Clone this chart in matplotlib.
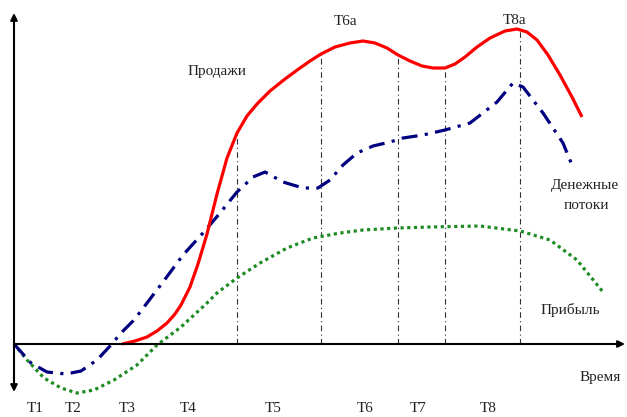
# Product life cycle: sales, cash flow and profit over time
import matplotlib.pyplot as plt

# time positions (horizontal) and curve heights above the time axis
sales_t = [122, 135, 147, 157, 167, 175, 181, 190, 198, 207, 217, 227, 237, 247, 257, 270,
           285, 300, 310, 321, 335, 350, 363, 375, 387, 398, 410, 422, 433, 445, 455,
           465, 477, 490, 505, 517, 527, 537, 548, 560, 572, 582]
sales_v = [0, 3, 7, 13, 21, 30, 39, 57, 80, 110, 150, 186, 211, 228, 240, 253,
           265, 276, 283, 290, 297, 301, 303, 301, 296, 289, 283, 278, 276, 276, 280,
           287, 297, 306, 313, 315, 312, 304, 289, 269, 247, 227]

cash_t = [14, 31, 47, 66, 81, 97, 111, 121, 134, 147, 163, 183, 203, 220, 237, 253,
          265, 283, 303, 318, 330, 343, 357, 373, 390, 403, 423, 445, 470, 497, 513,
          523, 543, 563, 572]
cash_v = [0, -19, -28, -30, -27, -16, -1, 11, 24, 41, 62, 89, 111, 131, 152, 167,
          172, 162, 156, 156, 164, 179, 191, 198, 202, 206, 209, 214, 221, 242, 261,
          257, 231, 201, 179]

profit_t = [14, 27, 44, 61, 77, 94, 114, 137, 157, 181, 207, 217, 237, 260, 287, 313,
            340, 363, 397, 430, 480, 520, 550, 577, 603]
profit_v = [0, -16, -34, -44, -49, -46, -36, -21, -1, 17, 41, 51, 66, 81, 96, 106,
            111, 114, 116, 117, 118, 113, 104, 84, 52]

marker_t = [237, 321, 398, 445, 520]
marker_top = [213, 290, 289, 276, 315]

tick_t = [35, 73, 127, 188, 273, 365, 418, 488]
tick_labels = ['Т1', 'Т2', 'Т3', 'Т4', 'Т5', 'Т6', 'Т7', 'Т8']

plt.rcParams['font.family'] = ['Liberation Serif', 'DejaVu Serif']
txt = '#222222'

fig = plt.figure(figsize=(6.27, 4.17), dpi=100)
ax = fig.add_axes([0, 0, 1, 1])
ax.set_xlim(0, 627)
ax.set_ylim(-73, 344)
ax.axis('off')

# axes with arrows
ax.annotate('', xy=(14, 331), xytext=(14, -48),
            arrowprops=dict(arrowstyle='<|-|>', color='black', lw=1.5,
                            mutation_scale=10, shrinkA=0, shrinkB=0))
ax.annotate('', xy=(625, 0), xytext=(14, 0),
            arrowprops=dict(arrowstyle='-|>', color='black', lw=1.5,
                            mutation_scale=10, shrinkA=0, shrinkB=0))

ax.vlines(marker_t, 0, marker_top, colors='#333333', lw=0.8,
          linestyles=[(0, (5, 3, 1, 3))])

ax.plot(profit_t, profit_v, color='#1f8b24', lw=2.3, linestyle=(0, (1, 1.1)))
ax.plot(cash_t, cash_v, color='#000080', lw=2.3, linestyle=(0, (5, 2.3, 1, 2.3)),
        dash_joinstyle='round')
ax.plot(sales_t, sales_v, color='#ff0000', lw=2.3, solid_capstyle='butt',
        solid_joinstyle='round')

fs = 11
for t, lab in zip(tick_t, tick_labels):
    ax.text(t, -64, lab, ha='center', va='center', fontsize=fs, color=txt)

ax.text(217, 273, 'Продажи', ha='center', va='center', fontsize=fs, color=txt)
ax.text(346, 323, 'Т6а', ha='center', va='center', fontsize=fs, color=txt)
ax.text(515, 324, 'Т8а', ha='center', va='center', fontsize=fs, color=txt)
ax.text(585, 159, 'Денежные', ha='center', va='center', fontsize=fs, color=txt)
ax.text(586, 139, 'потоки', ha='center', va='center', fontsize=fs, color=txt)
ax.text(570, 34, 'Прибыль', ha='center', va='center', fontsize=fs, color=txt)
ax.text(600, -34, 'Время', ha='center', va='center', fontsize=fs, color=txt)

fig.savefig('out.png', dpi=100)
